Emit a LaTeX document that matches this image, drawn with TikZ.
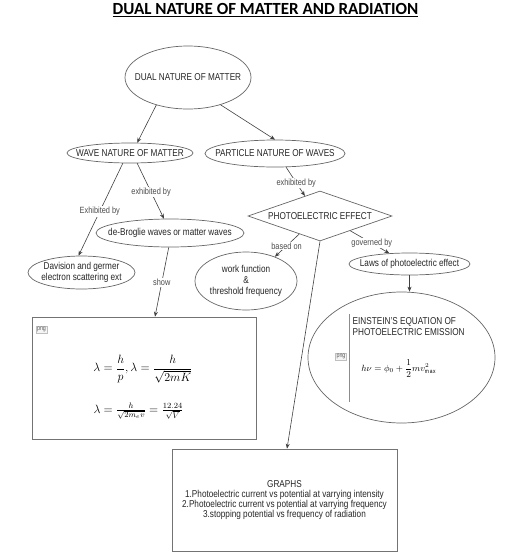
\RequirePackage{fix-cm}
\documentclass[tikz,border=0pt]{standalone}
\usepackage{fontspec}
\setmainfont[FakeStretch=0.82]{Liberation Sans}
\newfontfamily\titlefont{Carlito}
\usetikzlibrary{shapes.geometric,arrows.meta,calc}
\tikzset{
  ell/.style={ellipse, draw=black!60, line width=0.7pt, inner sep=-30pt, align=center,
    font=\fontsize{10}{11.3}\selectfont, text=black!85},
  conn/.style={draw=black!75, line width=0.6pt, -{Stealth[length=5pt,width=4pt]}},
  lbl/.style={fill=white, inner sep=1pt, font=\fontsize{9}{10}\selectfont, text=black!70},
  boxs/.style={draw=black!55, line width=0.7pt, inner sep=0pt},
  tag/.style={draw=black!25, fill=black!4, inner sep=1pt, font=\fontsize{6.5}{7}\selectfont, text=black!65},
  txt/.style={font=\fontsize{10}{11.2}\selectfont, text=black!85},
}
\begin{document}
\begin{tikzpicture}[x=1pt,y=-1pt]
\useasboundingbox (0,0) rectangle (516,555);
% title
\node[anchor=base, inner sep=0pt] (title) at (265.5,14.5) {\titlefont\bfseries\fontsize{17}{20}\selectfont\underline{DUAL NATURE OF MATTER AND RADIATION}};
% ellipses
\node[ell, minimum width=126pt, minimum height=63pt] (dual) at (188,77.5) {DUAL NATURE OF MATTER};
\node[ell, minimum width=126pt, minimum height=20pt] (wave) at (130,153) {WAVE NATURE OF MATTER};
\node[ell, minimum width=140pt, minimum height=27pt] (part) at (275,153.5) {PARTICLE NATURE OF WAVES};
\node[ell, minimum width=148pt, minimum height=28pt] (debro) at (170,233) {de-Broglie waves or matter waves};
\node[ell, minimum width=107pt, minimum height=33pt] (davis) at (81.5,272.5) {Davision and germer\\electron scattering ext};
\node[diamond, draw=black!60, line width=0.7pt, minimum width=144pt, minimum height=50pt, inner sep=0pt] (pe) at (320,216) {};
\node[txt] (petext) at (pe.center) {PHOTOELECTRIC EFFECT};
\node[ell, minimum width=102pt, minimum height=58pt] (work) at (246,281) {work function\\\&\\threshold frequency};
\node[ell, minimum width=121pt, minimum height=22pt] (laws) at (409.5,264) {Laws of photoelectric effect};
\node[ellipse, draw=black!60, line width=0.7pt, inner sep=0pt, minimum width=187pt, minimum height=131pt] (ein) at (401.5,357.5) {};
% equation box
\node[boxs, minimum width=224pt, minimum height=122pt] (eqbox) at (144,378) {};
\node[tag] (pngA) at (41.5,329.5) {png};
\node (eq1) at (143,369) {\fontsize{12}{14}\selectfont$\displaystyle \lambda=\frac{h}{p},\lambda=\frac{h}{\sqrt{2mK}}$};
\node (eq2) at (138.5,411) {\fontsize{12}{14}\selectfont$\lambda=\frac{h}{\sqrt{2m_e v}}=\frac{12.24}{\sqrt{V}}$};
% einstein contents
\draw[draw=black!45, line width=0.6pt] (349,314) -- (349,402);
\node[tag] (pngB) at (341,356.5) {png};
\node[txt, anchor=west, align=left, inner sep=0pt] (eintitle) at (352.5,326.5) {EINSTEIN'S EQUATION OF\\PHOTOELECTRIC EMISSION};
\node (eineq) at (399,369) {\fontsize{9}{11}\selectfont$\displaystyle h\nu=\phi_0+\frac{1}{2}mv^{2}_{\max}$};
% graphs box
\node[boxs, txt, align=center, minimum width=225pt, minimum height=102pt, font=\fontsize{10}{10.3}\selectfont] (graphs) at (284.5,500) {GRAPHS\\1.Photoelectric current vs potential at varrying intensity\\2.Photoelectric current vs potential at varrying frequency\\3.stopping potential vs frequency of radiation};
% connectors
\draw[conn] (dual.221) -- (wave.55);
\draw[conn] (dual.320) -- (part.north);
\draw[conn] (wave.305) -- node[lbl, pos=.52] (l1) {exhibited by} (debro.113);
\draw[conn] (wave.235) -- node[lbl, pos=.52] (l2) {Exhibited by} (davis.100);
\draw[conn] (debro.265) -- node[lbl, pos=.51] (l3) {show} ([xshift=11pt]eqbox.north);
\draw[conn] (part.309) -- node[lbl, pos=.54] (l4) {exhibited by} (pe.127);
\draw[conn] (pe.221) -- node[lbl, pos=.52] (l5) {based on} (work.40);
\draw[conn] (pe.334) -- node[lbl, pos=.55] (l6) {governed by} (laws.152);
\draw[conn] (laws.south) -- (laws.south |- ein.north);
\draw[conn] (pe.south) -- ([xshift=2.5pt]graphs.north);
\end{tikzpicture}
\end{document}
